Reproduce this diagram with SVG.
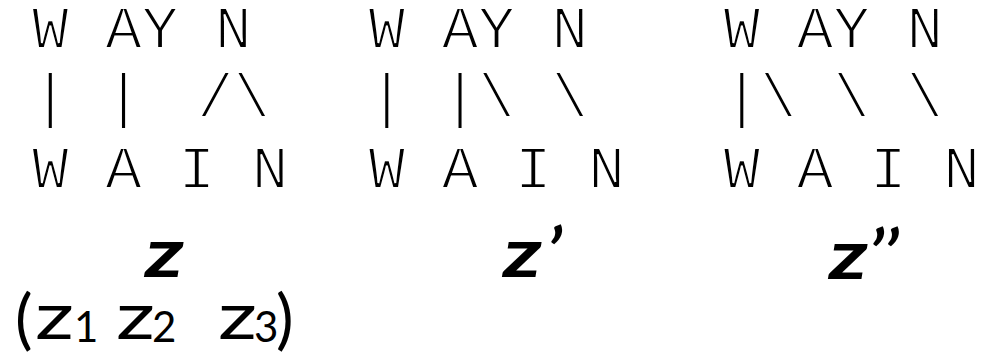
<svg xmlns="http://www.w3.org/2000/svg" width="1000" height="356" viewBox="0 0 1000 356">
<style>
.m{font-family:"Liberation Mono","Courier New",monospace;font-size:61px;fill:#000;white-space:pre;stroke:#fff;stroke-width:1.8px}
.zb{font-family:Lato,"Open Sans",sans-serif;font-weight:bold;font-style:italic;font-size:69px;fill:#000}
.zr{font-family:Lato,"Open Sans",sans-serif;font-size:64px;fill:#000}
.par{font-family:Lato,"Open Sans",sans-serif;font-size:66px;fill:#000}
.sub{font-family:Lato,"Open Sans",sans-serif;font-size:42px;fill:#000}
</style>
<rect width="1000" height="356" fill="#fff"/>
<g id="block1">
<text class="m" x="32" y="48">W AY N</text>
<text class="m" x="32" y="116">| |</text>
<text class="m" x="197" y="116">/\</text>
<text class="m" x="32" y="188">W A I N</text>
</g>
<g id="block2">
<text class="m" x="368.5" y="48">W AY N</text>
<text class="m" x="368.5" y="116">| |\ \</text>
<text class="m" x="368.5" y="188">W A I N</text>
</g>
<g id="block3">
<text class="m" x="723.5" y="48">W AY N</text>
<text class="m" x="723.5" y="116">|\ \ \</text>
<text class="m" x="723.5" y="188">W A I N</text>
</g>
<g id="labels">
<text class="zb" x="145" y="277" textLength="39" lengthAdjust="spacingAndGlyphs">z</text>
<text class="zb" x="503" y="277" textLength="39" lengthAdjust="spacingAndGlyphs">z</text>
<text class="zb" x="547" y="277">’</text>
<text class="zb" x="829" y="279" textLength="39" lengthAdjust="spacingAndGlyphs">z</text>
<text class="zb" x="869" y="279">’’</text>
<text class="par" x="15" y="342">(</text>
<text class="zr" x="35" y="339" textLength="39" lengthAdjust="spacingAndGlyphs">z</text>
<text class="sub" x="74" y="342">1</text>
<text class="zr" x="116" y="339" textLength="39" lengthAdjust="spacingAndGlyphs">z</text>
<text class="sub" x="152" y="342">2</text>
<text class="zr" x="218" y="339" textLength="39" lengthAdjust="spacingAndGlyphs">z</text>
<text class="sub" x="254" y="342">3</text>
<text class="par" x="276" y="342">)</text>
</g>
</svg>
